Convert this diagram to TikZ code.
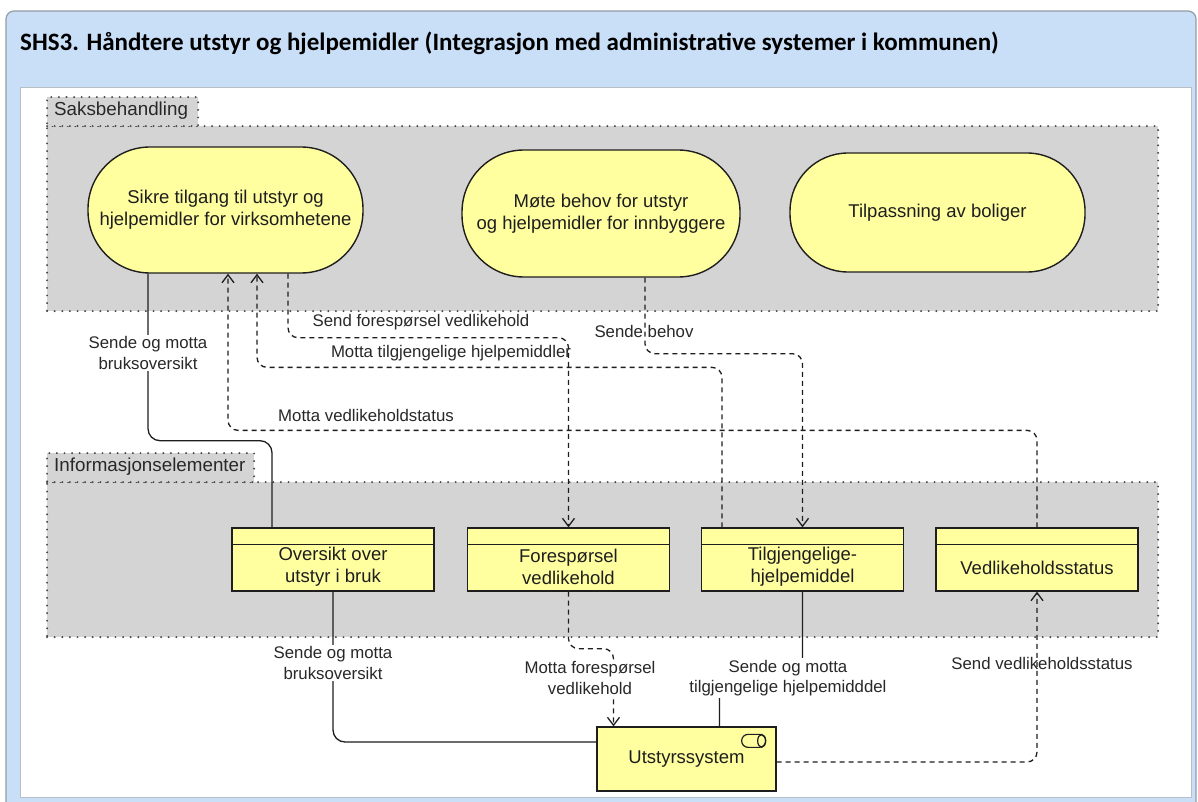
\documentclass[tikz,border=0pt]{standalone}
\usepackage{fontspec}
\setmainfont{Liberation Sans}
\newfontfamily\titlefont{Carlito}
\usetikzlibrary{arrows.meta,calc}

\definecolor{panelblue}{RGB}{201,223,247}
\definecolor{panelline}{RGB}{150,156,165}
\definecolor{innerline}{RGB}{185,190,196}
\definecolor{groupgray}{RGB}{212,212,212}
\definecolor{groupline}{RGB}{75,75,75}
\definecolor{elemyellow}{RGB}{255,255,160}
\definecolor{ink}{RGB}{30,30,30}
\definecolor{labelink}{RGB}{40,40,40}

\tikzset{
  panel/.style={fill=panelblue, draw=panelline, line width=1.2pt, rounded corners=8pt},
  innerpanel/.style={fill=white, draw=innerline, line width=0.8pt},
  titletext/.style={font=\titlefont\bfseries\fontsize{25}{29}\selectfont, text=black, inner sep=0pt},
  grp/.style={fill=groupgray, draw=groupline, line width=2.2pt, line cap=round,
              dash pattern=on 0pt off 7.6pt, inner sep=0pt},
  grplabel/.style={font=\fontsize{18.8}{22}\selectfont, text=labelink, inner sep=0pt, anchor=west},
  process/.style={draw=ink, line width=1.4pt, fill=elemyellow, align=center, inner sep=0pt,
                  font=\fontsize{18.5}{22}\selectfont, text=ink},
  dataobj/.style={draw=ink, line width=1.3pt, fill=elemyellow, minimum width=202pt,
                  minimum height=63pt, inner sep=0pt},
  objtext/.style={font=\fontsize{18.5}{22}\selectfont, text=ink, align=center, inner sep=0pt},
  appbox/.style={draw=ink, line width=1.3pt, fill=elemyellow, minimum width=179pt,
                 minimum height=64pt, inner sep=0pt, font=\fontsize{18.5}{22}\selectfont, text=ink},
  assoc/.style={draw=ink, line width=1.3pt, rounded corners=12pt},
  flow/.style={draw=ink, line width=1.3pt, dash pattern=on 5pt off 4pt, rounded corners=10pt,
               -{Straight Barb[length=8pt,width=12pt]}},
  lbl/.style={font=\fontsize{16.8}{20.5}\selectfont, text=labelink, align=center, inner sep=1pt},
  lblw/.style={lbl, fill=white, inner sep=2pt}
}

\begin{document}
\begin{tikzpicture}[x=1pt,y=-1pt]
\useasboundingbox (0,0) rectangle (1198,802);
\clip (0,0) rectangle (1198,802);
\fill[white] (0,0) rectangle (1198,802);

% frame with title bar and white drawing area
\path[panel] (6,11) rectangle (1196,840);
\path[innerpanel] (20,87) rectangle (1191,797);
\node[titletext, anchor=base west] (title) at (20,51)
  {SHS3. Håndtere utstyr og hjelpemidler (Integrasjon med administrative systemer i kommunen)};

% groups
\node[grp, anchor=north west, minimum width=1111pt, minimum height=185pt] (G1) at (46,125) {};
\node[grp, anchor=north west, minimum width=151pt, minimum height=29pt] (G1tab) at (46,96) {};
\node[grplabel] (G1lbl) at (54,110.5) {Saksbehandling};

\node[grp, anchor=north west, minimum width=1111pt, minimum height=155pt] (G2) at (46,481) {};
\node[grp, anchor=north west, minimum width=207pt, minimum height=29pt] (G2tab) at (46,452) {};
\node[grplabel] (G2lbl) at (54,466.5) {Informasjonselementer};

% business processes
\node[process, minimum width=275pt, minimum height=126pt, rounded corners=62pt] (P1) at (225.5,210)
  {Sikre tilgang til utstyr og\\hjelpemidler for virksomhetene};
\node[process, minimum width=278pt, minimum height=127pt, rounded corners=62pt] (P2) at (601,213.5)
  {Møte behov for utstyr\\og hjelpemidler for innbyggere};
\node[process, minimum width=295pt, minimum height=119pt, rounded corners=58pt] (P3) at (937.5,212.5)
  {Tilpassning av boliger};

% data objects
\foreach \nm/\cx in {B1/333, B2/568.5, B3/802.5, B4/1037}{
  \node[dataobj] (\nm) at (\cx,559.5) {};
  \draw[ink, line width=1.3pt] ([yshift=-17pt]\nm.north west) -- ([yshift=-17pt]\nm.north east);
}
\node[objtext] (B1t) at (333,567) {Oversikt over\\utstyr i bruk};
\node[objtext] (B2t) at (568.5,567) {Forespørsel\\vedlikehold};
\node[objtext] (B3t) at (802.5,567) {Tilgjengelige-\\hjelpemiddel};
\node[objtext] (B4t) at (1037,568) {Vedlikeholdsstatus};

% application component
\node[appbox] (U) at (686.5,759) {Utstyrssystem};
\draw[ink, line width=1.2pt, rounded corners=6.4pt]
  ([xshift=-35pt,yshift=-8pt]U.north east) rectangle ([xshift=-11pt,yshift=-21pt]U.north east);
\draw[ink, line width=1.2pt]
  ([xshift=-15pt,yshift=-14.5pt]U.north east) ellipse [x radius=4pt, y radius=6.4pt];

% relations
\draw[assoc] ([xshift=-77.5pt]P1.south) -- ++(0,167) -| ([xshift=-61pt]B1.north);
\draw[flow] (B4.north) -- ++(0,-97) -| ([xshift=2.5pt]P1.south);
\draw[flow] ([xshift=-80.5pt]B3.north) -- ++(0,-160) -| ([xshift=31.5pt]P1.south);
\draw[flow] ([xshift=62.5pt]P1.south) -- ++(0,64) -| (B2.north);
\draw[flow] ([xshift=44pt]P2.south) -- ++(0,76) -| (B3.north);
\draw[assoc] (B1.south) |- ([yshift=17pt]U.west);
\draw[flow] (B2.south) -- ++(0,57) -| ([xshift=-73pt]U.north);
\draw[assoc] (B3.south) -- ++(0,87) -| ([xshift=33pt]U.north);
\draw[flow] ([yshift=-3pt]U.east) -| (B4.south);

% relation labels
\node[lblw] (L1) at (148,353) {Sende og motta\\bruksoversikt};
\node[lbl]  (L2) at (366,415) {Motta vedlikeholdstatus};
\node[lbl]  (L3) at (451,353) {Motta tilgjengelige hjelpemiddler};
\node[lbl]  (L4) at (421,322) {Send forespørsel vedlikehold};
\node[lbl]  (L5) at (644,331) {Sende behov};
\node[lblw] (L6) at (333,663) {Sende og motta\\bruksoversikt};
\node[lblw] (L7) at (590,678) {Motta forespørsel\\vedlikehold};
\node[lblw] (L8) at (788,678) {Sende og motta\\tilgjengelige hjelpemidddel};
\node[lbl]  (L9) at (1042,663) {Send vedlikeholdsstatus};
\end{tikzpicture}
\end{document}
